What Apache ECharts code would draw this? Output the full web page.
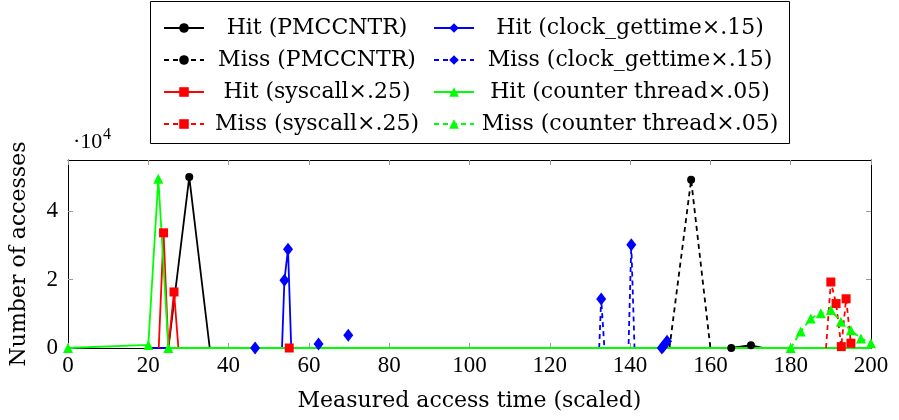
<!DOCTYPE html>
<html>
<head>
<meta charset="utf-8">
<script src="https://cdn.jsdelivr.net/npm/echarts@6/dist/echarts.min.js"></script>
<style>html,body{margin:0;padding:0;background:#fff;}#c{width:899px;height:420px;}</style>
</head>
<body>
<div id="c"></div>
<script>
// x = measured access time (scaled); y = number of accesses in units of 10^4
// *Mark: 1 = marker drawn at the point, 0 = plain line vertex; null y = line break
const hitPmcX = [25, 30.2, 35.3, 165.2, 170.1, 173];
const hitPmcY = [0, 5.0, 0, 0, 0.08, 0];
const hitPmcMark = [0, 1, 0, 1, 1, 0];

const missPmcX = [149.8, 155.2, 160];
const missPmcY = [0, 4.92, 0];
const missPmcMark = [0, 1, 0];

const hitSysX = [22.6, 23.8, 25, 26.4, 27.5, 55.1];
const hitSysY = [0, 3.37, 0, 1.64, 0, 0];
const hitSysMark = [0, 1, 0, 1, 0, 1];

const missSysX = [188.8, 190, 191.3, 192.6, 193.8, 195, 196];
const missSysY = [0, 1.93, 1.30, 0.04, 1.44, 0.14, 0];
const missSysMark = [0, 1, 1, 1, 1, 1, 0];

const hitClockX = [20, 46.6, 53.3, 53.9, 54.8, 55.6, 59, 62.4, 66, 69.8, 100, 147.9, 148.3, 149.2];
const hitClockY = [0, 0, 0, 1.98, 2.89, 0, null, 0.12, null, 0.37, null, 0, 0.05, 0.2];
const hitClockMark = [0, 1, 0, 1, 1, 0, 0, 1, 0, 1, 0, 1, 1, 1];

const missClockX = [132.3, 132.8, 133.6, 139.6, 140.3, 141.1];
const missClockY = [0, 1.43, 0, 0, 3.02, 0];
const missClockMark = [0, 1, 0, 0, 1, 0];

const hitCtrX = [0, 20, 22.5, 25, 200];
const hitCtrY = [0, 0.09, 4.95, 0, 0];
const hitCtrMark = [1, 1, 1, 1, 0];

const missCtrX = [180, 182.5, 185, 187.5, 190, 192.5, 195, 197.5, 200];
const missCtrY = [0, 0.48, 0.86, 1.02, 1.11, 0.77, 0.52, 0.28, 0.14];
const missCtrMark = [1, 1, 1, 1, 1, 1, 1, 1, 1];

const xTicks = [0, 20, 40, 60, 80, 100, 120, 140, 160, 180, 200];
const yTicks = [0, 2, 4];

const names = {
  hitPmc: 'Hit (PMCCNTR)', missPmc: 'Miss (PMCCNTR)',
  hitSys: 'Hit (syscall×.25)', missSys: 'Miss (syscall×.25)',
  hitClock: 'Hit (clock_gettime×.15)', missClock: 'Miss (clock_gettime×.15)',
  hitCtr: 'Hit (counter thread×.05)', missCtr: 'Miss (counter thread×.05)'
};

function pts(xs, ys, marks) {
  return xs.map(function (x, i) {
    if (ys[i] === null) return [x, '-'];
    if (marks[i]) return [x, ys[i]];
    return { value: [x, ys[i]], symbol: 'none' };
  });
}

const TXT = 'DejaVu Serif';
const NUM = 'Liberation Serif';

function mk(name, data, color, symbol, size, dashed) {
  return {
    type: 'line', name: name, data: data,
    xAxisIndex: 0, yAxisIndex: 0,
    symbol: symbol, symbolSize: size, showSymbol: true, showAllSymbol: true,
    connectNulls: false, smooth: false,
    itemStyle: { color: color },
    lineStyle: { color: color, width: 1.8, type: dashed ? [5, 4] : 'solid' },
    emphasis: { disabled: true },
    animation: false
  };
}

const series = [
  mk(names.hitPmc, pts(hitPmcX, hitPmcY, hitPmcMark), '#000000', 'circle', 8, false),
  mk(names.hitClock, pts(hitClockX, hitClockY, hitClockMark), '#0000ff', 'diamond', [10, 13], false),
  mk(names.missPmc, pts(missPmcX, missPmcY, missPmcMark), '#000000', 'circle', 8, true),
  mk(names.missClock, pts(missClockX, missClockY, missClockMark), '#0000ff', 'diamond', [10, 13], true),
  mk(names.hitSys, pts(hitSysX, hitSysY, hitSysMark), '#ff0000', 'rect', 9, false),
  mk(names.hitCtr, pts(hitCtrX, hitCtrY, hitCtrMark), '#00ff00', 'triangle', 10, false),
  mk(names.missSys, pts(missSysX, missSysY, missSysMark), '#ff0000', 'rect', 9, true),
  mk(names.missCtr, pts(missCtrX, missCtrY, missCtrMark), '#00ff00', 'triangle', 10, true)
];

function legendCfg(left, data, w) {
  return {
    orient: 'vertical', left: left, top: 12, itemGap: 10,
    itemWidth: 40, itemHeight: 12, selectedMode: false,
    data: data,
    formatter: function (n) { return '{c|' + n + '}'; },
    textStyle: {
      color: '#000',
      rich: { c: { width: w, align: 'center', fontFamily: TXT, fontSize: 22, color: '#000' } }
    }
  };
}

const tickStyle = { show: true, inside: true, length: 5, lineStyle: { color: '#9a9a9a', width: 1 } };
const lineStyleAx = { show: true, onZero: false, lineStyle: { color: '#000', width: 1 } };

const option = {
  backgroundColor: '#ffffff',
  animation: false,
  grid: { left: 65, right: 28, top: 160, bottom: 72, containLabel: false },
  legend: [
    legendCfg(158, [names.hitPmc, names.missPmc, names.hitSys, names.missSys], 216),
    legendCfg(428, [names.hitClock, names.missClock, names.hitCtr, names.missCtr], 302)
  ],
  xAxis: [
    {
      type: 'value', position: 'bottom', min: 0, max: 200, interval: 20,
      name: 'Measured access time (scaled)', nameLocation: 'middle', nameGap: 42,
      nameTextStyle: { fontFamily: TXT, fontSize: 22, color: '#000' },
      axisLine: lineStyleAx, axisTick: tickStyle,
      axisLabel: { color: '#000', fontFamily: NUM, fontSize: 23, margin: 6, customValues: xTicks },
      splitLine: { show: false }
    },
    {
      type: 'value', position: 'top', min: 0, max: 200, interval: 20,
      axisLine: lineStyleAx, axisTick: tickStyle,
      axisLabel: { show: false }, splitLine: { show: false }
    }
  ],
  yAxis: [
    {
      type: 'value', position: 'left', min: 0, max: 5.5,
      name: 'Number of accesses', nameLocation: 'middle', nameGap: 38,
      nameTextStyle: { fontFamily: TXT, fontSize: 22, color: '#000' },
      axisLine: lineStyleAx,
      axisTick: Object.assign({}, tickStyle, { customValues: yTicks }),
      axisLabel: { color: '#000', fontFamily: NUM, fontSize: 23, margin: 10, customValues: yTicks },
      splitLine: { show: false }
    },
    {
      type: 'value', position: 'right', min: 0, max: 5.5,
      axisLine: lineStyleAx,
      axisTick: Object.assign({}, tickStyle, { customValues: yTicks }),
      axisLabel: { show: false }, splitLine: { show: false }
    }
  ],
  graphic: [
    { type: 'rect', shape: { x: 150.5, y: 1.5, width: 639, height: 142 },
      style: { fill: 'none', stroke: '#000', lineWidth: 1 }, z: 100 },
    { type: 'text', left: 73, top: 131, style: { text: '·10', font: '22px "Liberation Serif"', fill: '#000' } },
    { type: 'text', left: 103, top: 127, style: { text: '4', font: '16px "Liberation Serif"', fill: '#000' } }
  ],
  series: series
};

const chart = echarts.init(document.getElementById('c'), null, { renderer: 'canvas' });
chart.setOption(option);
</script>
</body>
</html>
